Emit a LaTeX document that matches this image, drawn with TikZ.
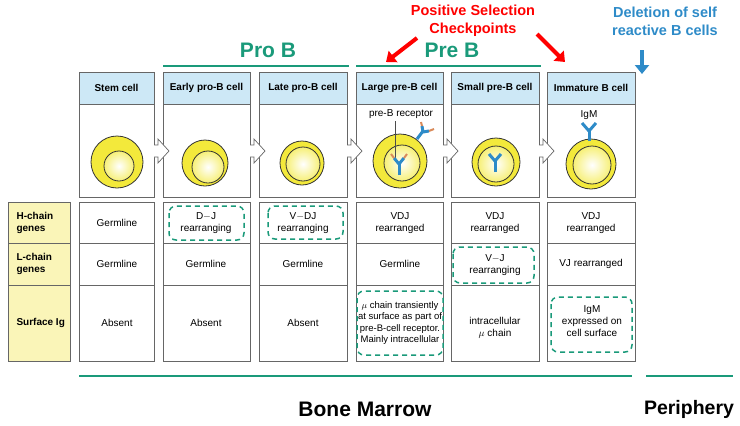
\documentclass[tikz,border=0pt]{standalone}
\usepackage{fontspec}
\setmainfont{Liberation Sans}
\usetikzlibrary{arrows.meta}
\definecolor{hdr}{HTML}{CDE8F6}
\definecolor{lab}{HTML}{FAF5B8}
\definecolor{tg}{HTML}{1A9A7A}
\definecolor{cy}{HTML}{F3E93B}
\definecolor{rb}{HTML}{2E8BC8}
\definecolor{orn}{HTML}{D98A5A}
\tikzset{
 box/.style={draw=black!60,line width=0.8pt},
 ct/.style={font=\fontsize{10}{12}\selectfont,align=center},
 hd/.style={font=\bfseries\fontsize{10}{12}\selectfont},
 lb/.style={font=\bfseries\fontsize{10}{12}\selectfont,align=left,anchor=west},
 dsh/.style={draw=tg,dashed,line width=1.5pt,rounded corners=7pt,dash pattern=on 5pt off 4pt},
 bar/.style={tg,line width=1.6pt},
 outer/.style={draw=black!80,fill=cy,line width=0.8pt},
 inner/.style={draw=black!80,inner color=white,outer color=cy!70,line width=0.8pt},
 ybl/.style={rb,line width=3pt},
 big/.style={font=\bfseries\fontsize{21}{24}\selectfont},
 ann/.style={font=\bfseries\fontsize{14.5}{18}\selectfont,align=center},
}
\begin{document}
\begin{tikzpicture}[x=1pt,y=-1pt]
\useasboundingbox (0,0) rectangle (740,426);
% columns
\foreach \xa/\xb/\t/\n in {79/154/Stem cell/c1,163/250/Early pro-B cell/c2,259/347/Late  pro-B cell/c3,356/443/Large pre-B cell/c4,451/539/Small pre-B cell/c5,547/635/Immature B cell/c6}{
  \fill[hdr] (\xa,72) rectangle (\xb,104);
  \draw[box] (\xa,72) rectangle (\xb,197);
  \draw[box] (\xa,104) -- (\xb,104);
  \node[hd] (\n) at ({(\xa+\xb)/2},88) {\t};
  \draw[box] (\xa,202) rectangle (\xb,361);
  \draw[box] (\xa,243) -- (\xb,243);
  \draw[box] (\xa,285) -- (\xb,285);
}
% arrows between columns
\foreach \x in {154,250,347,443,539}{
  \draw[black!60,fill=white,line width=0.7pt] (\x,145) -- (\x+4,145) -- (\x+4,139) -- (\x+15,151) -- (\x+4,163) -- (\x+4,157) -- (\x,157);
}
\draw[box] (635,146) -- (635,154);
% labels column
\fill[lab] (8,202) rectangle (70,361);
\draw[box] (8,202) rectangle (70,361);
\draw[box] (8,243) -- (70,243);
\draw[box] (8,285) -- (70,285);
\node[lb] (l1) at (13,223) {H-chain\\genes};
\node[lb] (l2) at (13,264) {L-chain\\genes};
\node[lb] (l3) at (13,323) {Surface Ig};
% cells
\draw[outer] (117,162) circle (26); \draw[inner] (119,166) circle (15);
\draw[outer] (205,163) circle (23); \draw[inner] (208,167) circle (16);
\draw[outer] (302,163) circle (22); \draw[inner] (303,164) circle (17);
\draw[outer] (400,161) circle (27); \draw[inner] (402,163) circle (18);
\draw[outer] (496,162) circle (24); \draw[inner] (496,164) circle (18);
\draw[outer] (591,164) circle (25); \draw[inner] (592,165) circle (19);
% pre-B receptor
\node[ct] (prl) at (401,114) {pre-B receptor};
\draw[black!70,line width=0.4pt] (395,121) -- (395,158);
\draw[ybl] (399,175) -- (399,163); \draw[ybl] (399,164) -- (394,158); \draw[ybl] (399,164) -- (404,158);
\draw[orn,line width=2pt] (394,158) -- (391,154); \draw[orn,line width=2pt] (404,158) -- (407,154);
\draw[ybl] (417,139) -- (423,131); \draw[ybl] (423,132) -- (422,126); \draw[ybl] (423,132) -- (429,131);
\draw[orn,line width=2pt] (422,126) -- (421,122); \draw[orn,line width=2pt] (429,131) -- (434,129);
\draw[ybl] (495,172) -- (495,160); \draw[ybl] (495,161) -- (489,154); \draw[ybl] (495,161) -- (501,154);
\node[ct] (igm) at (589,115) {IgM};
\draw[ybl] (589,141) -- (589,130); \draw[ybl] (589,131) -- (582,123); \draw[ybl] (589,131) -- (596,123);
% cell texts
\foreach \n/\x/\y/\t in {a1/117/223/Germline,a2/117/264/Germline,a3/117/323/Absent,
 b2/206/264/Germline,b3/206/323/Absent,d2/303/264/Germline,d3/303/323/Absent,
 e1/400/223/{VDJ\\rearranged},e2/400/264/Germline,f1/495/223/{VDJ\\rearranged},
 f3/495/328/{intracellular\\$\mu$ chain},g1/591/223/{VDJ\\rearranged},g2/591/264/{VJ  rearranged}}{
 \node[ct] (\n) at (\x,\y) {\t};}
\node[ct] (b1) at (206,223) {D$-$J\\rearranging};
\draw[dsh] (169,206) rectangle (244,240);
\node[ct] (d1) at (303,223) {V$-$DJ\\rearranging};
\draw[dsh] (268,206) rectangle (343,239);
\node[ct] (f2) at (495,265) {V$-$J\\rearranging};
\draw[dsh] (453,247) rectangle (534,283);
\node[ct,font=\fontsize{9.5}{11.5}\selectfont] (e3) at (400,323) {$\mu$ chain transiently\\at surface as part of\\pre-B-cell receptor.\\Mainly intracellular};
\draw[dsh] (357,291) rectangle (443,355);
\node[ct] (g3) at (592,321) {IgM\\expressed on\\cell  surface};
\draw[dsh] (551,297) rectangle (632,352);
% top annotations
\node[big,tg] (pro) at (268,50) {Pro B};
\draw[bar] (163,66) -- (349,66);
\node[big,tg] (pre) at (452,50) {Pre B};
\draw[bar] (356,66) -- (541,66);
\node[ann,red] (pos) at (473,21) {Positive Selection\\Checkpoints};
\draw[red,line width=4pt,-{Triangle[length=9pt,width=14pt]}] (417,38) -- (386,62);
\draw[red,line width=4pt,-{Triangle[length=9pt,width=14pt]}] (537,34) -- (565,62);
\node[ann,rb] (del) at (665,21) {Deletion of self\\reactive B cells};
\draw[rb,line width=4pt,-{Triangle[length=9pt,width=14pt]}] (642,50) -- (642,74);
% bottom
\draw[bar] (79,376) -- (632,376);
\draw[bar] (646,376) -- (733,376);
\node[big,font=\bfseries\fontsize{21}{24}\selectfont] (bm) at (365,409) {Bone Marrow};
\node[big,font=\bfseries\fontsize{19.5}{22}\selectfont] (per) at (689,409) {Periphery};
\end{tikzpicture}
\end{document}
